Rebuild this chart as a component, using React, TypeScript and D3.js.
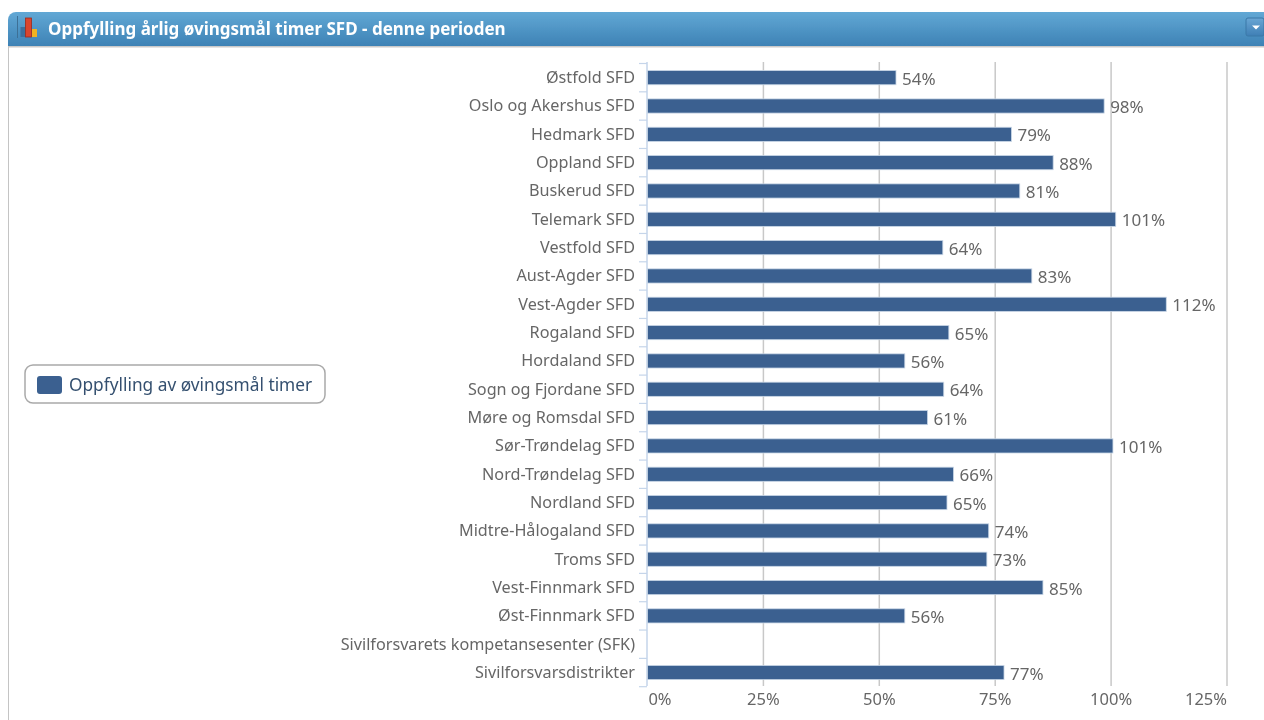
import React from "react";
import * as d3 from "d3";

const categories = ["Østfold SFD","Oslo og Akershus SFD","Hedmark SFD","Oppland SFD","Buskerud SFD","Telemark SFD","Vestfold SFD","Aust-Agder SFD","Vest-Agder SFD","Rogaland SFD","Hordaland SFD","Sogn og Fjordane SFD","Møre og Romsdal SFD","Sør-Trøndelag SFD","Nord-Trøndelag SFD","Nordland SFD","Midtre-Hålogaland SFD","Troms SFD","Vest-Finnmark SFD","Øst-Finnmark SFD","Sivilforsvarets kompetansesenter (SFK)","Sivilforsvarsdistrikter"];
const values: (number | null)[] = [53.6,98.5,78.5,87.5,80.3,101,63.7,82.9,111.9,65,55.5,63.9,60.4,100.4,66,64.6,73.6,73.2,85.3,55.5,null,76.9];
const valueLabels = ["54%","98%","79%","88%","81%","101%","64%","83%","112%","65%","56%","64%","61%","101%","66%","65%","74%","73%","85%","56%","","77%"];
const xTicks = [0,25,50,75,100,125];
const title = "Oppfylling årlig øvingsmål timer SFD - denne perioden";
const legendLabel = "Oppfylling av øvingsmål timer";

const FONT = "'Noto Sans', 'DejaVu Sans', sans-serif";
const BAR = "#3a6090";
const TEXT = "#666666";

export default function App() {
  const x = d3.scaleLinear().domain([0, 125]).range([647.5, 1227]);
  const y = d3.scaleBand().domain(categories).range([63.5, 686.7]).paddingInner(0.5).paddingOuter(0.25);
  const step = y.step();
  const edges = d3.range(categories.length + 1).map((i) => 63.5 + i * step);
  return (
    <div style={{ position: "absolute", left: 0, top: 0 }}>
      <svg width={1264} height={720} style={{ display: "block", fontFamily: FONT }}>
        <defs>
          <linearGradient id="hdr" x1="0" x2="0" y1="0" y2="1">
            <stop offset="0" stopColor="#62a8d5" />
            <stop offset="1" stopColor="#3d82b5" />
          </linearGradient>
          <linearGradient id="btn" x1="0" x2="0" y1="0" y2="1">
            <stop offset="0" stopColor="#6aa6d4" />
            <stop offset="1" stopColor="#3f7fb5" />
          </linearGradient>
          <filter id="soft" x="0" y="0" width="100%" height="100%">
            <feGaussianBlur stdDeviation="0.45" />
          </filter>
        </defs>
        <rect width={1264} height={720} fill="#fff" />
        <g filter="url(#soft)">
          <path d="M8,46V20a8,8 0 0 1 8,-8H1264V46Z" fill="url(#hdr)" />
          <rect x={8} y={46} width={1256} height={1.5} fill="#c9c9c9" />
          <rect x={8} y={46} width={1} height={674} fill="#c4c4c4" />
          <rect x={17} y={16} width={1} height={22} fill="#3c6f96" />
          <rect x={20.5} y={27} width={5} height={10} fill="#3a6f9e" />
          <rect x={25.5} y={18} width={6} height={19} fill="#d9452e" stroke="#9c2a1c" strokeWidth={0.8} />
          <rect x={32} y={29} width={5} height={8} fill="#f0b323" />
          <text x={48} y={35} fontSize={17} fontWeight={700} fill="#fff">{title}</text>
          <rect x={1246} y={18} width={18} height={18} rx={2} fill="url(#btn)" stroke="#3a78a8" />
          <path d="M1252,25.5h8l-4,4z" fill="#fff" />

          {xTicks.map((t) => (
            <line key={t} x1={x(t)} x2={x(t)} y1={62} y2={686} stroke={t === 0 ? "none" : "#c8c8c8"} strokeWidth={1.5} />
          ))}
          {xTicks.map((t) => (
            <text key={t} x={t === 0 ? 660 : t === 125 ? 1227 : x(t)} y={705} textAnchor={t === 125 ? "end" : "middle"} fontSize={16.5} fill={TEXT}>{t}%</text>
          ))}

          <line x1={647} x2={647} y1={62} y2={686} stroke="#c5d5ea" strokeWidth={1.5} />
          {edges.map((e, i) => (
            <line key={i} x1={639} x2={647} y1={e} y2={e} stroke="#c5d5ea" strokeWidth={1.2} />
          ))}

          {categories.map((c, i) => {
            const v = values[i];
            const by = y(c)!;
            const bh = y.bandwidth();
            return (
              <g key={c}>
                <text x={635} y={by + bh / 2 + 5.5} textAnchor="end" fontSize={16.2} fill={TEXT}>{c}</text>
                {v !== null && (
                  <>
                    <rect x={x(0)} y={by} width={x(v) - x(0)} height={bh} fill={BAR} stroke="#c9d6e6" strokeWidth={0.8} />
                    <text x={x(v) + 6} y={by + bh / 2 + 7} fontSize={17} fill={TEXT}>{valueLabels[i]}</text>
                  </>
                )}
              </g>
            );
          })}

          <rect x={25} y={365} width={300} height={38} rx={8} fill="#fff" stroke="#a9a9a9" strokeWidth={1.5} />
          <rect x={37} y={376} width={25} height={18} rx={3} fill={BAR} />
          <text x={69} y={391} fontSize={17.3} fill="#34506f">{legendLabel}</text>
        </g>
      </svg>
    </div>
  );
}
